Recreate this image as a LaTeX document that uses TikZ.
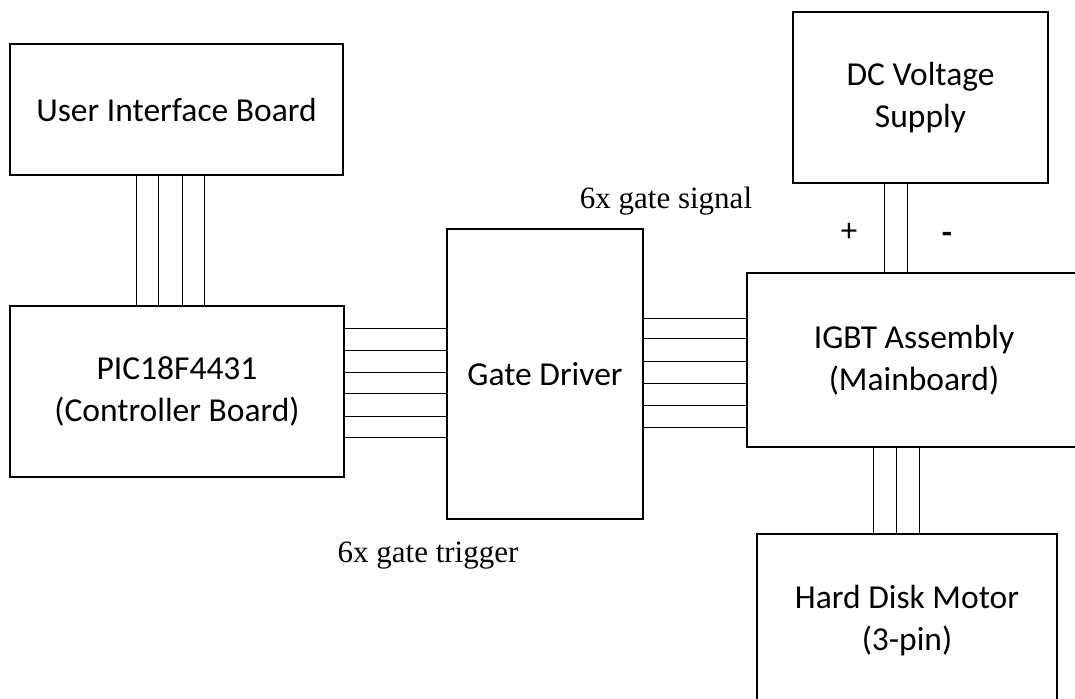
\documentclass[tikz,border=0pt]{standalone}
\usepackage{fontspec}
\setmainfont{Carlito}
\newfontfamily\timesf{Liberation Serif}
\begin{document}
\begin{tikzpicture}[x=1pt,y=-1pt,
  blk/.style={draw, line width=1.7pt, inner sep=0pt, align=center,
    font=\fontsize{33.5}{42}\selectfont},
  wire/.style={line width=0.8pt},
  lbl/.style={font=\timesf\fontsize{31}{36}\selectfont, inner sep=0pt},
  sgn/.style={font=\fontsize{33}{40}\selectfont, inner sep=0pt}]
\useasboundingbox (0,0) rectangle (1075,698);
\clip (0,0) rectangle (1075,698);
\fill[white] (0,0) rectangle (1075,698);

\node[blk, minimum width=333pt, minimum height=131pt] (ui) at (176.5,109.5) {User Interface Board};
\node[blk, minimum width=334pt, minimum height=171pt] (pic) at (177,391.5) {PIC18F4431\\(Controller Board)};
\node[blk, minimum width=196pt, minimum height=290pt] (gd) at (545,374) {Gate Driver};
\node[blk, minimum width=334pt, minimum height=174pt] (igbt) at (914,360) {IGBT Assembly\\(Mainboard)};
\node[blk, minimum width=255pt, minimum height=171pt] (dc) at (920.5,97.5) {DC Voltage\\Supply};
\node[blk, minimum width=300pt, minimum height=174pt] (mot) at (907,621) {Hard Disk Motor\\(3-pin)};

% UI -> PIC
\foreach \dx [count=\i] in {-40.5,-18.5,5.5,27.5}{
  \path ([xshift=\dx pt]ui.south) coordinate (u\i);
  \draw[wire] (u\i) -- (u\i |- pic.north);
}
% PIC -> GD
\foreach \dy [count=\i] in {63.5,41.5,19.5,-1.5,-24.5,-45.5}{
  \path ([yshift=\dy pt]pic.east) coordinate (p\i);
  \draw[wire] (p\i) -- (p\i -| gd.west);
}
% GD -> IGBT
\foreach \dy [count=\i] in {56,36,13,-9,-31,-53}{
  \path ([yshift=\dy pt]gd.east) coordinate (g\i);
  \draw[wire] (g\i) -- (g\i -| igbt.west);
}
% DC -> IGBT
\foreach \dx [count=\i] in {-36.5,-13.5}{
  \path ([xshift=\dx pt]dc.south) coordinate (d\i);
  \draw[wire] (d\i) -- (d\i |- igbt.north);
}
% IGBT -> Motor
\foreach \dx [count=\i] in {-41,-18,5}{
  \path ([xshift=\dx pt]igbt.south) coordinate (m\i);
  \draw[wire] (m\i) -- (m\i |- mot.north);
}

\node[sgn] (plus) at (849,232) {+};
\node[sgn, font=\bfseries\fontsize{33}{40}\selectfont] (minus) at (947,238) {-};
\node[lbl, anchor=base] (sig) at (666,208) {6x gate signal};
\node[lbl, anchor=base] (trig) at (428,562) {6x gate trigger};
\end{tikzpicture}
\end{document}
